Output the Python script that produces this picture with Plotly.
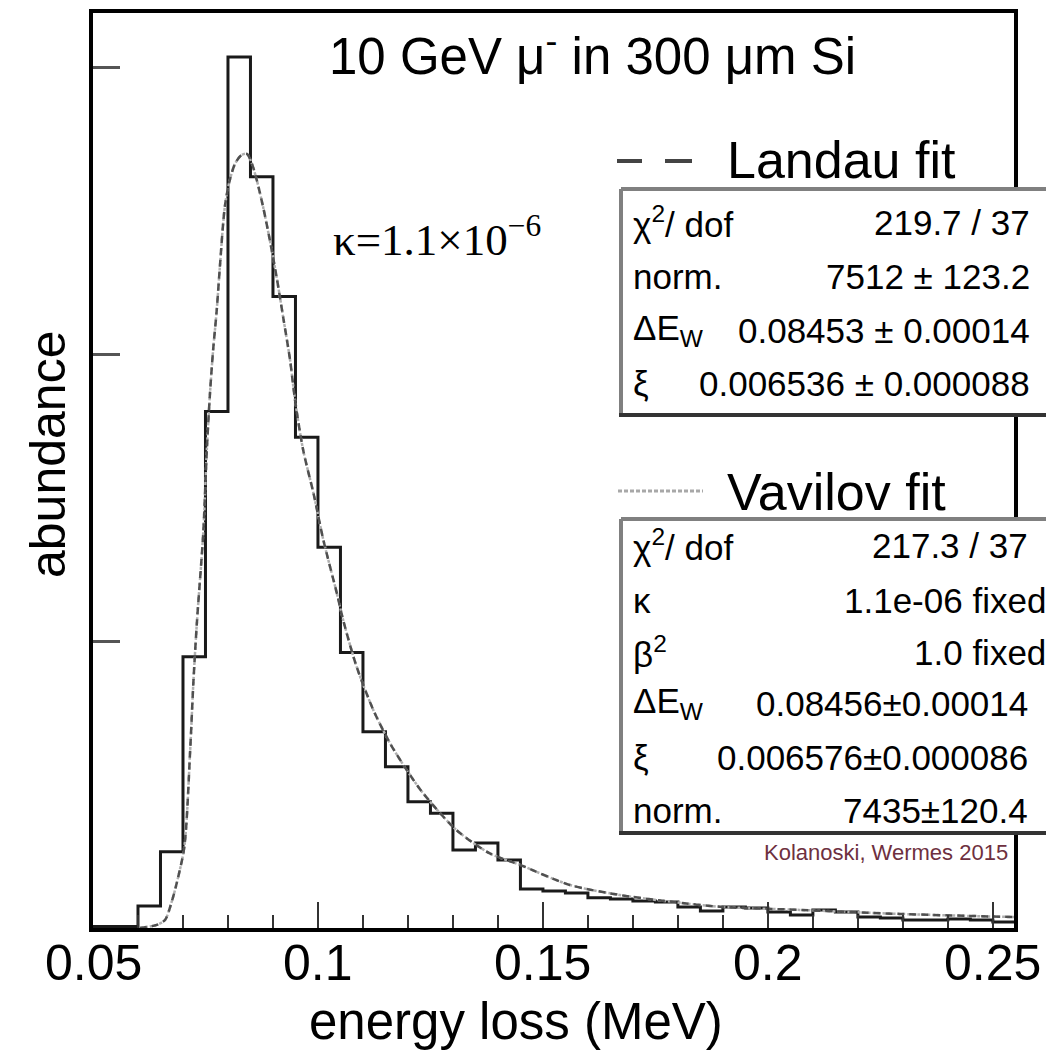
import plotly.graph_objects as go

# ---------------- data ----------------
bin_left = [0.050, 0.055, 0.060, 0.065, 0.070, 0.075, 0.080, 0.085, 0.090, 0.095,
            0.100, 0.105, 0.110, 0.115, 0.120, 0.125, 0.130, 0.135, 0.140, 0.145,
            0.150, 0.155, 0.160, 0.165, 0.170, 0.175, 0.180, 0.185, 0.190, 0.195,
            0.200, 0.205, 0.210, 0.215, 0.220, 0.225, 0.230, 0.235, 0.240, 0.245,
            0.250]
bin_width = 0.005
counts = [5, 5, 77, 266, 945, 1800, 3035, 2618, 2200, 1710,
          1327, 960, 684, 562, 440, 400, 272, 296, 237, 136,
          129, 122, 105, 101, 94, 91, 73, 59, 73, 70,
          56, 45, 63, 56, 38, 35, 28, 28, 31, 28,
          21]

fit_x = [0.0604, 0.0642, 0.0660, 0.0675, 0.0686, 0.0703, 0.0716, 0.0723, 0.0731,
         0.0745, 0.0753, 0.0760, 0.0767, 0.0775, 0.0782, 0.0793, 0.0804, 0.0816,
         0.0830, 0.0842, 0.0853, 0.0864, 0.0878, 0.0893, 0.0908, 0.0923, 0.0938,
         0.0949, 0.0967, 0.0990, 0.1012, 0.1042, 0.1056, 0.1086, 0.1123, 0.1160,
         0.1197, 0.1234, 0.1308, 0.1382, 0.1449, 0.1560, 0.1671, 0.1782, 0.1893,
         0.2071, 0.2293, 0.2547]
landau_y = [0, 11, 28, 92, 156, 283, 620, 853, 1066,
            1375, 1666, 1863, 2014, 2153, 2304, 2513, 2606, 2664,
            2693, 2697, 2664, 2606, 2513, 2397, 2269, 2125, 1979,
            1840, 1666, 1515, 1352, 1166, 1073, 910, 760, 644,
            551, 469, 341, 260, 220, 150, 115, 92, 74,
            63, 49, 38]
vavilov_y = [0, 11, 28, 92, 156, 283, 620, 853, 1066,
             1375, 1666, 1863, 2014, 2153, 2304, 2513, 2606, 2664,
             2693, 2697, 2664, 2606, 2513, 2397, 2269, 2125, 1979,
             1840, 1666, 1515, 1352, 1166, 1073, 910, 760, 644,
             551, 469, 341, 260, 220, 150, 115, 92, 74,
             63, 49, 38]

x_tickvals = [0.05, 0.10, 0.15, 0.20, 0.25]
x_ticktext = ["0.05", "0.1", "0.15", "0.2", "0.25"]
y_tickvals = [1000, 2000, 3000]

title_text = "10 GeV μ<sup>-</sup> in 300 μm Si"
kappa_text = "κ=1.1×10<sup>−6</sup>"
landau_labels = ["χ<sup>2</sup>/ dof", "norm.", "ΔE<sub>W</sub>", "ξ"]
landau_values = ["219.7 / 37", "7512 ± 123.2", "0.08453 ± 0.00014", "0.006536 ± 0.000088"]
vavilov_labels = ["χ<sup>2</sup>/ dof", "κ", "β<sup>2</sup>", "ΔE<sub>W</sub>", "ξ", "norm."]
vavilov_values = ["217.3 / 37", "1.1e-06 fixed", "1.0 fixed", "0.08456±0.00014",
                  "0.006576±0.000086", "7435±120.4"]

# ---------------- geometry helpers (pixel -> paper) ----------------
W, H = 1046, 1053
L, R, T, B = 93, 1014, 13, 928


def px(x):
    return (x - L) / (R - L)


def py(y):
    return (B - y) / (B - T)


FONT = "Liberation Sans, Arial, Helvetica, sans-serif"
SERIF = "Liberation Serif, Times New Roman, serif"

fig = go.Figure()

# histogram as step line
hx = bin_left + [bin_left[-1] + bin_width]
hy = counts + [counts[-1]]
fig.add_trace(go.Scatter(x=hx, y=hy, mode="lines", line=dict(shape="hv", color="#1a1a1a", width=3),
                         showlegend=False, hoverinfo="skip"))

fig.add_trace(go.Scatter(x=fit_x, y=vavilov_y, mode="lines",
                         line=dict(shape="spline", smoothing=0.8, color="#b0b0b0", width=2.5, dash="3px,2px"),
                         showlegend=False, hoverinfo="skip"))
fig.add_trace(go.Scatter(x=fit_x, y=landau_y, mode="lines",
                         line=dict(shape="spline", smoothing=0.8, color="#505050", width=2.5, dash="7px,5px"),
                         showlegend=False, hoverinfo="skip"))

fig.update_layout(
    width=W, height=H,
    margin=dict(l=L, r=W - R, t=T, b=H - B, pad=0, autoexpand=False),
    paper_bgcolor="white", plot_bgcolor="white",
    font=dict(family=FONT, color="black"),
    showlegend=False,
)

fig.update_xaxes(
    range=[0.05, 0.2547], showgrid=False, zeroline=False, automargin=False,
    showline=True, linecolor="black", linewidth=4, mirror=True,
    ticks="inside", ticklen=26, tickwidth=2, tickcolor="#333",
    tickvals=x_tickvals, showticklabels=False,
    minor=dict(dtick=0.01, tick0=0.05, ticks="inside", ticklen=13, tickwidth=2, tickcolor="#333"),
)
fig.update_yaxes(
    range=[0, (B - T) / 287 * 1000], showgrid=False, zeroline=False, automargin=False,
    showline=True, linecolor="black", linewidth=4, mirror=True,
    ticks="inside", ticklen=27, tickwidth=3, tickcolor="#555",
    tickvals=y_tickvals, showticklabels=False,
)

ann = []
# x tick labels placed at the axis values
for tv, tt in zip(x_tickvals, x_ticktext):
    ann.append(dict(text=tt, x=tv, y=py(963), xref="x", yref="paper",
                    xanchor="center", yanchor="middle", showarrow=False,
                    font=dict(size=50, family=FONT, color="black")))
ann.append(dict(text=title_text, x=px(592), y=py(53), xref="paper", yref="paper",
                xanchor="center", yanchor="middle", showarrow=False,
                font=dict(size=51, family=FONT, color="black")))
ann.append(dict(text="abundance", x=px(48), y=py(455), xref="paper", yref="paper",
                xanchor="center", yanchor="middle", showarrow=False, textangle=-90,
                font=dict(size=50, family=FONT, color="black")))
ann.append(dict(text="energy loss (MeV)", x=px(516), y=py(1021), xref="paper", yref="paper",
                xanchor="center", yanchor="middle", showarrow=False,
                font=dict(size=51, family=FONT, color="black")))
ann.append(dict(text=kappa_text, x=px(331), y=py(236), xref="paper", yref="paper",
                xanchor="left", yanchor="middle", showarrow=False, align="left",
                font=dict(size=45, family=SERIF, color="black")))
ann.append(dict(text="Landau fit", x=px(725), y=py(160), xref="paper", yref="paper",
                xanchor="left", yanchor="middle", showarrow=False,
                font=dict(size=52, family=FONT, color="black")))
ann.append(dict(text="Vavilov fit", x=px(725), y=py(492), xref="paper", yref="paper",
                xanchor="left", yanchor="middle", showarrow=False,
                font=dict(size=52, family=FONT, color="black")))
ann.append(dict(text="Kolanoski, Wermes 2015", x=px(1010), y=py(852), xref="paper", yref="paper",
                xanchor="right", yanchor="middle", showarrow=False,
                font=dict(size=22, family=FONT, color="#6e3040")))

box1_rows = [222, 277, 330, 383]
for lab, val, yy in zip(landau_labels, landau_values, box1_rows):
    ann.append(dict(text=lab, x=px(631), y=py(yy), xref="paper", yref="paper",
                    xanchor="left", yanchor="middle", showarrow=False, align="left",
                    font=dict(size=35, family=FONT, color="black")))
    ann.append(dict(text=val, x=px(1032), y=py(yy), xref="paper", yref="paper",
                    xanchor="right", yanchor="middle", showarrow=False, align="right",
                    font=dict(size=35, family=FONT, color="black")))

box2_rows = [545, 600, 652, 703, 757, 810]
box2_right = [1030, 1048, 1048, 1030, 1030, 1030]
for lab, val, yy, xr in zip(vavilov_labels, vavilov_values, box2_rows, box2_right):
    ann.append(dict(text=lab, x=px(631), y=py(yy), xref="paper", yref="paper",
                    xanchor="left", yanchor="middle", showarrow=False, align="left",
                    font=dict(size=35, family=FONT, color="black")))
    ann.append(dict(text=val, x=px(xr), y=py(yy), xref="paper", yref="paper",
                    xanchor="right", yanchor="middle", showarrow=False, align="right",
                    font=dict(size=35, family=FONT, color="black")))

fig.update_layout(annotations=ann)

shapes = []
for (top, bot) in [(189, 415), (519, 833)]:
    shapes.append(dict(type="rect", xref="paper", yref="paper", x0=px(621), x1=px(1060),
                       y0=py(bot), y1=py(top), fillcolor="white", line=dict(width=0), layer="above"))
    shapes.append(dict(type="line", xref="paper", yref="paper", x0=px(621), x1=px(1060),
                       y0=py(top), y1=py(top), line=dict(color="#808080", width=4), layer="above"))
    shapes.append(dict(type="line", xref="paper", yref="paper", x0=px(621), x1=px(621),
                       y0=py(bot), y1=py(top), line=dict(color="#808080", width=4), layer="above"))
    shapes.append(dict(type="line", xref="paper", yref="paper", x0=px(619), x1=px(1060),
                       y0=py(bot), y1=py(bot), line=dict(color="#333333", width=4), layer="above"))

# legend line samples
shapes.append(dict(type="line", xref="paper", yref="paper", x0=px(617), x1=px(642),
                   y0=py(161), y1=py(161), line=dict(color="#444444", width=4), layer="above"))
shapes.append(dict(type="line", xref="paper", yref="paper", x0=px(665), x1=px(692),
                   y0=py(161), y1=py(161), line=dict(color="#444444", width=4), layer="above"))
shapes.append(dict(type="line", xref="paper", yref="paper", x0=px(618), x1=px(703),
                   y0=py(491), y1=py(491), line=dict(color="#a8a8a8", width=3, dash="4px,2px"),
                   layer="above"))
fig.update_layout(shapes=shapes)

fig.write_html("out.html")
